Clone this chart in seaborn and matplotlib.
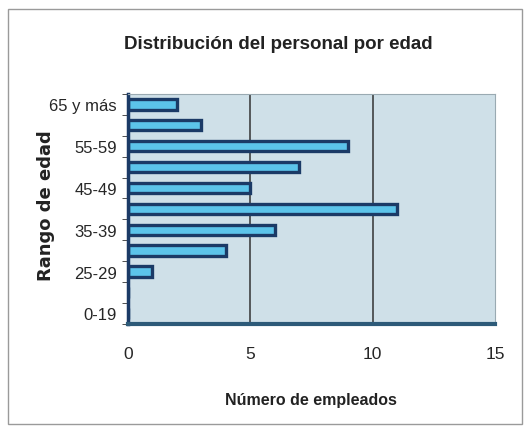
import seaborn as sns
import matplotlib.pyplot as plt
import pandas as pd
from matplotlib.patches import Rectangle

# age ranges, bottom to top as in the chart
rangos = ['0-19', '20-24', '25-29', '30-34', '35-39', '40-44',
          '45-49', '50-54', '55-59', '60-64', '65 y más']
empleados = [0, 0, 1, 4, 6, 11, 5, 7, 9, 3, 2]
xticks = [0, 5, 10, 15]


def operation():
    sns.set_style('white')
    plt.rcParams['font.family'] = ['Liberation Sans', 'DejaVu Sans']

    df = pd.DataFrame({'rango': rangos, 'n': empleados})

    fig = plt.figure(figsize=(5.31, 4.35), dpi=100)
    fig.patches.append(Rectangle((0.015, 0.022), 0.968, 0.955, transform=fig.transFigure,
                                 fill=False, edgecolor='#9a9a9a', linewidth=1))
    ax = fig.add_axes([0.241, 0.253, 0.691, 0.529])
    ax.set_facecolor('#cfe0e8')

    # top category first for seaborn's horizontal order
    sns.barplot(data=df, y='rango', x='n', order=rangos[::-1], orient='h',
                color='#5cc4ea', saturation=1, width=0.5,
                edgecolor='#1b3a66', linewidth=2.4, ax=ax)

    ax.set_xlim(0, 15)
    ax.set_xticks(xticks)
    ax.set_xticklabels([str(t) for t in xticks], fontsize=12.5)
    for x in xticks[1:-1]:
        ax.axvline(x, color='#333333', linewidth=1.1, zorder=0.5)

    labels = [r if i % 2 == 0 else '' for i, r in enumerate(rangos)][::-1]
    ax.set_yticks(range(len(rangos)))
    ax.set_yticklabels(labels, fontsize=12)
    ax.set_yticks([i + 0.5 for i in range(-1, len(rangos))], minor=True)
    ax.tick_params(axis='y', which='major', length=0, pad=8)
    ax.tick_params(axis='y', which='minor', length=4, color='#333333', direction='out', left=True)
    ax.tick_params(axis='x', length=0, pad=16)

    for side in ['top', 'right']:
        ax.spines[side].set_color('#9aaab2')
        ax.spines[side].set_linewidth(0.8)
    ax.spines['left'].set_color('#1b3a66')
    ax.spines['left'].set_linewidth(2.5)
    ax.spines['bottom'].set_color('#2d5a78')
    ax.spines['bottom'].set_linewidth(3)

    ax.set_xlabel('Número de empleados', fontsize=11.5, fontweight='bold', labelpad=22,
                  color='#222222')
    ax.set_ylabel('Rango de edad', fontsize=13, fontweight='bold',
                  family=['DejaVu Sans'], color='#222222')
    ax.yaxis.set_label_coords(-0.2, 0.52)
    fig.text(0.525, 0.897, 'Distribución del personal por edad', ha='center', va='center',
             fontsize=13.5, fontweight='bold', color='#222222')

    fig.savefig('out.png', dpi=100)


if __name__ == "__main__":
    operation()
